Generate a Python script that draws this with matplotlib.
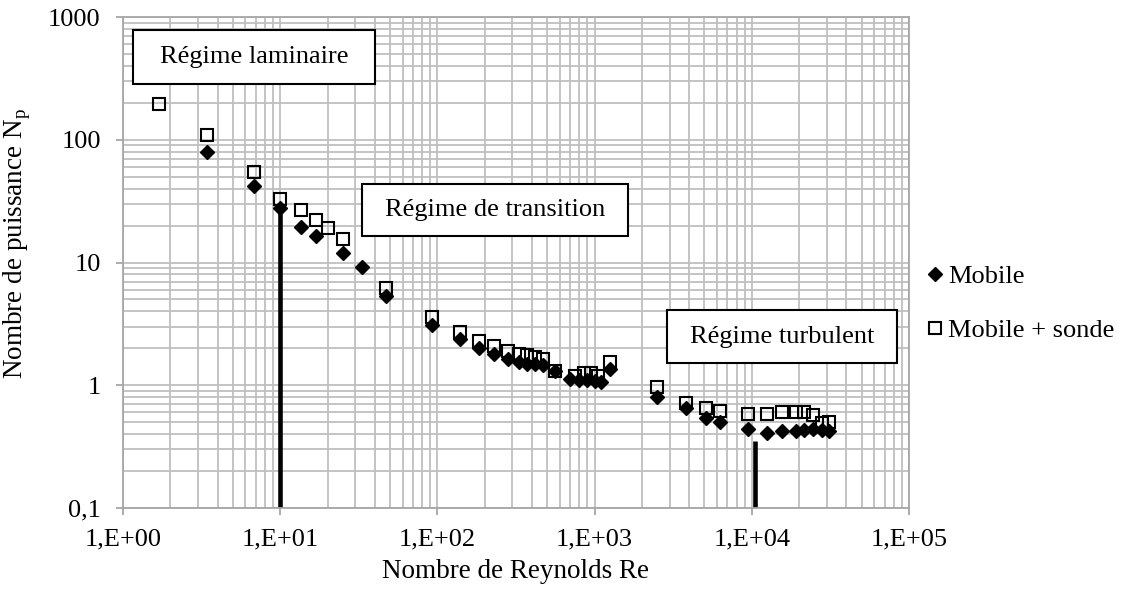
import matplotlib
matplotlib.use("Agg")
import matplotlib.pyplot as plt
from matplotlib.patches import Rectangle
from matplotlib.ticker import LogLocator, FixedLocator, FixedFormatter, NullFormatter

plt.rcParams['font.family'] = ['Liberation Serif', 'DejaVu Serif']
plt.rcParams['mathtext.fontset'] = 'custom'
plt.rcParams['mathtext.rm'] = 'Liberation Serif'

# Power number vs Reynolds number: impeller alone and impeller + probe
re_mobile = [3.4, 6.8, 10, 13.5, 17, 25, 33, 47, 93, 140, 185, 230, 280, 330,
             370, 420, 470, 560, 700, 800, 900, 1000, 1100, 1250, 2500, 3800,
             5100, 6300, 9500, 12500, 15500, 19000, 21500, 24500, 28000, 31000]
np_mobile = [80, 42, 28, 19.5, 16.5, 12, 9.2, 5.3, 3.1, 2.4, 2.0, 1.8, 1.65, 1.55,
             1.5, 1.5, 1.45, 1.3, 1.12, 1.1, 1.1, 1.08, 1.06, 1.35, 0.8, 0.65,
             0.54, 0.5, 0.44, 0.41, 0.42, 0.42, 0.43, 0.44, 0.43, 0.42]

re_sonde = [1.7, 3.4, 6.8, 10, 13.5, 17, 20, 25, 47, 93, 140, 185, 230, 280, 330,
            370, 420, 470, 560, 750, 850, 950, 1050, 1250, 2500, 3800, 5100,
            6300, 9500, 12500, 15500, 19000, 21500, 24500, 28000, 31000]
np_sonde = [195, 110, 55, 33, 27, 22, 19, 15.5, 6.2, 3.6, 2.7, 2.3, 2.1, 1.9, 1.8,
            1.75, 1.7, 1.65, 1.3, 1.2, 1.25, 1.25, 1.2, 1.55, 0.97, 0.72, 0.65,
            0.62, 0.58, 0.58, 0.6, 0.61, 0.6, 0.57, 0.49, 0.5]

# Regime boundaries (Re, top of the marker line)
boundary_re = [10, 10500]
boundary_top = [28, 0.35]

x_ticks = [1, 10, 100, 1000, 10000, 100000]
x_labels = ['1,E+00', '1,E+01', '1,E+02', '1,E+03', '1,E+04', '1,E+05']
y_ticks = [0.1, 1, 10, 100, 1000]
y_labels = ['0,1', '1', '10', '100', '1000']

W, H = 1121, 599
fig = plt.figure(figsize=(W / 100, H / 100), dpi=100)
ax = fig.add_axes([123 / W, 1 - 508 / H, (909 - 123) / W, (508 - 17) / H])
ax.set_xscale('log')
ax.set_yscale('log')
ax.set_xlim(1, 1e5)
ax.set_ylim(0.1, 1000)

grid_c = '#BFBFBF'
ax.xaxis.set_major_locator(FixedLocator(x_ticks))
ax.xaxis.set_major_formatter(FixedFormatter(x_labels))
ax.yaxis.set_major_locator(FixedLocator(y_ticks))
ax.yaxis.set_major_formatter(FixedFormatter(y_labels))
ax.xaxis.set_minor_locator(LogLocator(base=10, subs=range(2, 10), numticks=20))
ax.yaxis.set_minor_locator(LogLocator(base=10, subs=range(2, 10), numticks=20))
ax.xaxis.set_minor_formatter(NullFormatter())
ax.yaxis.set_minor_formatter(NullFormatter())
ax.grid(True, which='both', color=grid_c, linewidth=1.3)
ax.set_axisbelow(True)
ax.tick_params(which='major', direction='out', length=5, width=1.3, color='#A6A6A6',
               labelsize=19)
ax.tick_params(axis='y', which='major', pad=11)
ax.tick_params(axis='x', which='major', pad=10)
ax.tick_params(which='minor', length=0)
for s in ax.spines.values():
    s.set_color('#A6A6A6')
    s.set_linewidth(1.3)

for xr, top in zip(boundary_re, boundary_top):
    ax.vlines(xr, 0.1, top, colors='black', linewidth=3.3, zorder=2)

ax.plot(re_mobile, np_mobile, linestyle='none', marker='D', markersize=7.3,
        color='black', label='Mobile', zorder=4)
ax.plot(re_sonde, np_sonde, linestyle='none', marker='s', markersize=9,
        markerfacecolor='none', markeredgecolor='black', markeredgewidth=1.5,
        label='Mobile + sonde', zorder=3)

ax.set_xlabel('Nombre de Reynolds Re', fontsize=19.5, labelpad=6)
ax.set_ylabel('Nombre de puissance N$_\\mathregular{p}$', fontsize=19.5)
ax.yaxis.set_label_coords(-0.114, 0.538)

ax.legend(loc='center left', bbox_to_anchor=(927 / W, 1 - 303.5 / H),
          bbox_transform=fig.transFigure, frameon=False, fontsize=19,
          handlelength=0.6, handletextpad=0.2, labelspacing=1.15,
          borderaxespad=0, borderpad=0)

# Regime annotation boxes (pixel layout in figure coordinates)
boxes = [
    (133, 30, 375, 84, 'Régime laminaire'),
    (362, 184, 628, 236, 'Régime de transition'),
    (667, 310, 897, 363, 'Régime turbulent'),
]
for x0, y0, x1, y1, txt in boxes:
    fig.patches.append(Rectangle((x0 / W, 1 - y1 / H), (x1 - x0) / W, (y1 - y0) / H,
                                 transform=fig.transFigure, facecolor='white',
                                 edgecolor='black', linewidth=1.5, zorder=5))
    fig.text((x0 + x1) / 2 / W, 1 - (y0 + y1) / 2 / H, txt, ha='center', va='center',
             fontsize=19, zorder=6)

fig.savefig('out.png', dpi=100)
